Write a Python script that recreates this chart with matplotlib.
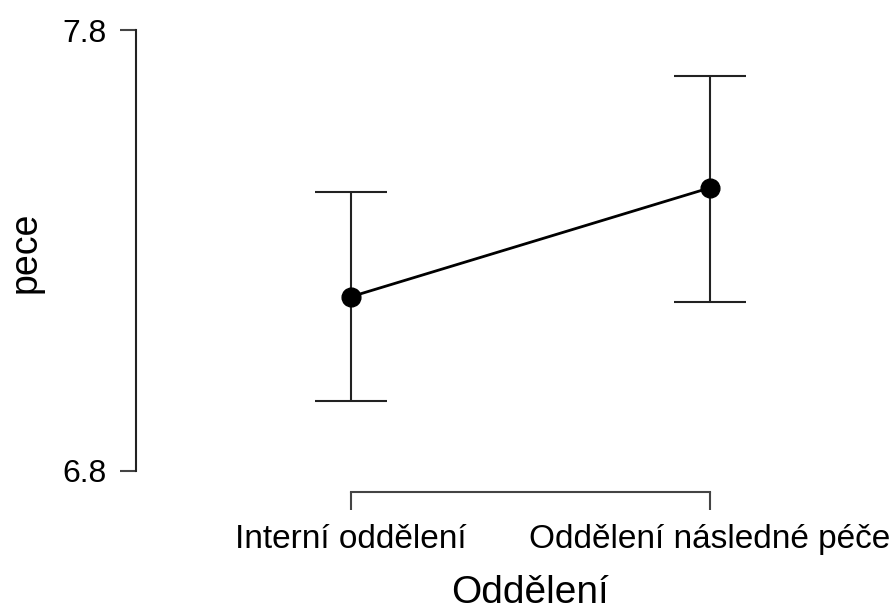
import matplotlib
matplotlib.use("Agg")
import matplotlib.pyplot as plt

plt.rcParams['font.family'] = ['Liberation Sans', 'DejaVu Sans']

categories = ["Interní oddělení", "Oddělení následné péče"]
means = [7.195, 7.442]
ci_lower = [6.959, 7.184]
ci_upper = [7.433, 7.696]
y_ticks = [6.8, 7.8]

fig = plt.figure(figsize=(8.9, 6.12), dpi=100)
ax = fig.add_axes([136/890, 120/612, 744/890, 472/612])

x = list(range(len(categories)))
yerr = [[m - lo for m, lo in zip(means, ci_lower)],
        [hi - m for m, hi in zip(means, ci_upper)]]

ax.errorbar(x, means, yerr=yerr, fmt="none", ecolor="#222222",
            elinewidth=1.5, capsize=26, capthick=1.5, zorder=2)
ax.plot(x, means, color="black", linewidth=2, zorder=3)
ax.plot(x, means, "o", color="black", markersize=13.5, zorder=4)

ax.set_xlim(-0.599, 1.474)
ax.set_ylim(6.752, 7.8227)
ax.set_xticks(x)
ax.set_xticklabels(categories)
ax.set_yticks(y_ticks)
ax.set_yticklabels(["6.8", "7.8"])

for side in ["top", "right"]:
    ax.spines[side].set_visible(False)
ax.spines["left"].set_bounds(6.8, 7.8)
ax.spines["bottom"].set_bounds(0, 1)
ax.spines["left"].set_linewidth(1.5)
ax.spines["bottom"].set_linewidth(1.5)
ax.spines["left"].set_color("#222222")
ax.spines["bottom"].set_color("#444444")

ax.tick_params(axis="y", length=11.5, width=1.5, pad=10, labelsize=23, color="#444444")
ax.tick_params(axis="x", length=13, width=1.5, pad=10, labelsize=24, color="#444444")

ax.set_ylabel("pece", fontsize=27)
ax.set_xlabel("Oddělení", fontsize=28)
ax.yaxis.set_label_coords(-0.124, 0.508)
ax.xaxis.set_label_coords(0.53, -0.176)

fig.savefig("out.png", dpi=100)
